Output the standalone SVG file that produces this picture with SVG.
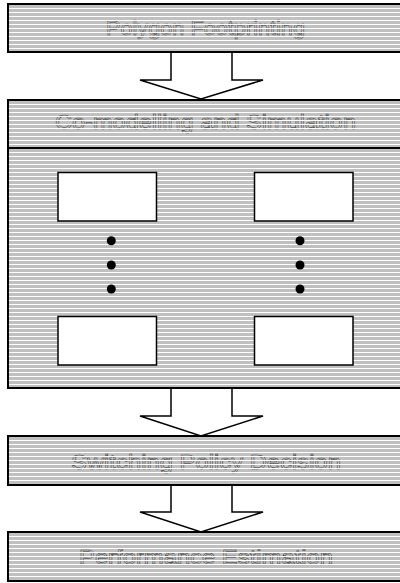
<svg xmlns="http://www.w3.org/2000/svg" width="400" height="583" viewBox="0 0 400 583">
<style>
.box{fill:url(#hatch);stroke:#000;stroke-width:2}
.lines{fill:url(#wl);stroke:none}
.inner{fill:#fff;stroke:#000;stroke-width:1.5}
.arrow{fill:#fff;stroke:#000;stroke-width:1.5;stroke-linejoin:miter}
.lbl{font-family:"Liberation Sans",Arial,sans-serif;font-size:20px;fill:#c8c8c8;stroke:#333;stroke-width:0.45;text-anchor:middle}
.dot{fill:#000}
</style>
<defs>
<pattern id="hatch" patternUnits="userSpaceOnUse" width="8" height="4">
<rect width="8" height="4" fill="#c0c0c0"/>
<rect y="0" width="8" height="1" fill="#fff"/>
</pattern>
<pattern id="wl" patternUnits="userSpaceOnUse" width="8" height="4">
<rect y="0" width="8" height="1" fill="#fff"/>
</pattern>
</defs>
<g id="connectors">
<polygon class="arrow" points="171,52 171,80 140,80 201,99 263,80 232,80 232,52"/>
<polygon class="arrow" points="171,388 171,416 140,416 201,436 263,416 232,416 232,388"/>
<polygon class="arrow" points="171,485 171,512 140,512 201,532 263,512 232,512 232,485"/>
</g>
<g id="polygon-footprinting">
<rect class="box" x="8" y="4" width="404" height="48"/>
<text class="lbl" x="205.5" y="35" textLength="199" lengthAdjust="spacingAndGlyphs">Polygon Footprinting</text>
<rect class="lines" x="9" y="5" width="400" height="46"/>
</g>
<g id="co-modelling">
<rect class="box" x="8" y="100" width="404" height="288"/>
<line x1="8" y1="148" x2="412" y2="148" stroke="#000" stroke-width="2"/>
<text class="lbl" x="205.5" y="129" textLength="301" lengthAdjust="spacingAndGlyphs">Co-modelling and Simulation</text>
<rect class="lines" x="9" y="101" width="400" height="46"/>
</g>
<g id="sim-1"><rect class="inner" x="58" y="172.5" width="98.5" height="48.5"/></g>
<g id="sim-2"><rect class="inner" x="254.5" y="172.5" width="98.5" height="48.5"/></g>
<g id="sim-3"><rect class="inner" x="58" y="316.5" width="98.5" height="48.5"/></g>
<g id="sim-4"><rect class="inner" x="254.5" y="316.5" width="98.5" height="48.5"/></g>
<g id="dots">
<circle class="dot" cx="111.3" cy="240.7" r="4.5"/>
<circle class="dot" cx="111.3" cy="265" r="4.5"/>
<circle class="dot" cx="111.3" cy="289" r="4.5"/>
<circle class="dot" cx="300" cy="240.7" r="4.5"/>
<circle class="dot" cx="300" cy="265" r="4.5"/>
<circle class="dot" cx="300" cy="289" r="4.5"/>
</g>
<g id="switching-policy">
<rect class="box" x="8" y="436" width="404" height="49"/>
<text class="lbl" x="206" y="469" textLength="270" lengthAdjust="spacingAndGlyphs">Switching Policy Decision</text>
<rect class="lines" x="9" y="437" width="400" height="47"/>
</g>
<g id="performance-estimation">
<rect class="box" x="8" y="532" width="404" height="49"/>
<text class="lbl" x="206" y="564" textLength="254" lengthAdjust="spacingAndGlyphs">Performance Estimation</text>
<rect class="lines" x="9" y="533" width="400" height="47"/>
</g>
</svg>
